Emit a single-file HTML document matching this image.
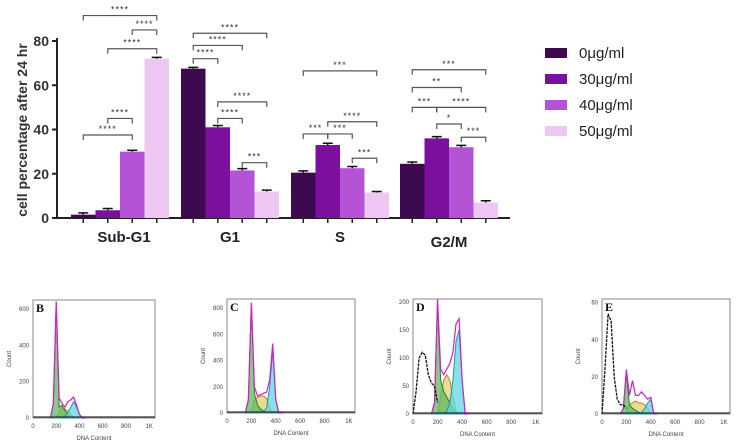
<!DOCTYPE html>
<html><head><meta charset="utf-8">
<style>
body{margin:0;background:#fff;width:736px;height:444px;overflow:hidden;font-family:"Liberation Sans",sans-serif}
svg{display:block}
</style></head>
<body>
<svg id="chart" width="736" height="444" viewBox="0 0 736 444" xmlns="http://www.w3.org/2000/svg"></svg>
<script>
// ---- Bar chart data ----
const categories = ["Sub-G1","G1","S","G2/M"];
const seriesNames = ["0\u03bcg/ml","30\u03bcg/ml","40\u03bcg/ml","50\u03bcg/ml"];
const s0 = [1.5, 67.5, 20.5, 24.5];
const s30 = [3.5, 41, 33, 36];
const s40 = [30, 21.5, 22.5, 32];
const s50 = [72, 12, 11.5, 7];
const errs = [[0.8,0.6,0.8,0.8],[0.8,0.8,0.8,0.8],[0.6,0.8,0.8,0.8],[0.6,0.6,0.5,0.8]];
const yTicks = [0,20,40,60,80];
// significance: [group, barA, barB, level(y value), label]
const sig = [
 [0,0,3,91.5,"****"],[0,2,3,85,"****"],[0,1,3,76.5,"****"],[0,1,2,45,"****"],[0,0,2,37.5,"****"],
 [1,0,3,83.5,"****"],[1,0,2,78,"****"],[1,0,1,72,"****"],[1,1,3,52.5,"****"],[1,1,2,45,"****"],[1,2,3,25,"***"],
 [2,0,3,66.5,"***"],[2,0,1,38,"***"],[2,1,3,43.5,"****"],[2,1,2,38,"***"],[2,2,3,27,"***"],
 [3,0,3,67,"***"],[3,0,2,59,"**"],[3,0,1,50,"***"],[3,1,3,50,"****"],[3,1,2,42.5,"*"],[3,2,3,36.5,"***"]
];
// ---- Histogram data (bins of DNA content) ----
const histBins = [150,175,200,225,250,275,300,325,350,375,400,425,450];
const debrisBins = [0,25,50,75,100,125,150,175,200];
const panelLabels = ["B","C","D","E"];
const panelYMax = [650,870,205,62];
const panelYTicks = [[0,200,400,600],[0,200,400,600,800],[0,50,100,150,200],[0,20,40,60]];
const xTickVals = [0,200,400,600,800,1000];
const xTickLabels = ["0","200","400","600","800","1K"];
const greenB=[0,80,640,60,70,40,20,5,0,0,0,0,0], yellowB=[0,0,0,30,60,50,40,20,5,0,0,0,0], cyanB=[0,0,0,0,0,10,30,60,90,60,20,0,0], totalB=[0,80,640,110,80,60,90,100,115,70,20,0,0];
const greenC=[0,100,840,150,60,30,15,5,0,0,0,0,0], yellowC=[0,0,0,100,120,130,130,110,40,0,0,0,0], cyanC=[0,0,0,0,0,0,10,40,200,480,100,0,0], totalC=[0,100,840,200,130,140,150,160,250,530,100,0,0];
const greenD=[0,20,200,60,40,30,20,10,0,0,0,0,0], yellowD=[0,0,0,30,60,70,60,30,5,0,0,0,0], cyanD=[0,0,0,0,0,5,20,60,130,150,60,0,0], totalD=[0,20,205,80,70,80,90,110,160,170,60,0,0];
const greenE=[0,3,22,5,3,2,1,0,0,0,0,0,0], yellowE=[0,0,0,5,6,7,6,6,5,3,0,0,0], cyanE=[0,0,0,0,0,0,0,1,3,6,8,0,0], totalE=[0,3,24,10,18,10,10,12,10,8,9,0,0];
const debrisD=[0,40,100,110,105,70,55,50,20], debrisE=[0,25,54,50,20,8,5,5,3];

const svg=document.getElementById('chart');
const NS="http://www.w3.org/2000/svg";
function mk(tag,attrs,parent){const e=document.createElementNS(NS,tag);for(const k in attrs)e.setAttribute(k,attrs[k]);(parent||svg).appendChild(e);return e;}

// Bar chart geometry
const y0=218, pxPerUnit=177/80, axL=57, axR=510;
const groupStart=[71,181,291,400], barW=24.5;
const colors=["#3d0a50","#7a109d","#b553d6","#eec8f3"];
const Y=v=>y0-v*pxPerUnit;
const X=(g,b)=>groupStart[g]+b*barW;
const series=[s0,s30,s40,s50];

// axes
let a=mk('line',{x1:axL,y1:38,x2:axL,y2:y0,stroke:'#222','stroke-width':2});

a=mk('line',{x1:axL-5,y1:y0,x2:axR,y2:y0,stroke:'#222','stroke-width':2});

yTicks.forEach(t=>{
 const l=mk('line',{x1:axL-5,y1:Y(t),x2:axL,y2:Y(t),stroke:'#222','stroke-width':2});
 
 const tx=mk('text',{x:axL-8,y:Y(t)+5,'text-anchor':'end','font-size':14,'font-weight':'bold',fill:'#333'});
 tx.textContent=t;
});
const yt=mk('text',{x:0,y:0,transform:'translate(27,130) rotate(-90)','text-anchor':'middle','font-size':14,'font-weight':'bold',fill:'#333'});
yt.textContent="cell percentage after 24 hr";


series.forEach((s,b)=>{
 s.forEach((v,g)=>{
  const r=mk('rect',{x:X(g,b),y:Y(v),width:barW,height:v*pxPerUnit,fill:colors[b]});
  
  
  const cx=X(g,b)+barW/2, e=errs[b][g];
  const el=mk('path',{d:`M${cx} ${Y(v)} V${Y(v+e)} M${cx-5} ${Y(v+e)} H${cx+5}`,stroke:'#111','stroke-width':1.5,fill:'none'});
  
  const tk=mk('line',{x1:cx,y1:y0,x2:cx,y2:y0+5,stroke:'#222','stroke-width':1.5});
  
 });
});
const catLabelY=[242,242,242,247];
categories.forEach((c,g)=>{
 const t=mk('text',{x:groupStart[g]+barW*2+(g==0?4:0),y:catLabelY[g],'text-anchor':'middle','font-size':15,'font-weight':'bold',fill:'#222'});
 t.textContent=c;
});
sig.forEach(s=>{
 const [g,a1,b1,lv,lab]=s;
 const x1=X(g,a1)+barW/2, x2=X(g,b1)+barW/2, yy=Y(lv);
 const p=mk('path',{d:`M${x1} ${yy+5} V${yy} H${x2} V${yy+5}`,stroke:'#555','stroke-width':1.2,fill:'none'});
 
 const t=mk('text',{x:(x1+x2)/2,y:yy-3,'text-anchor':'middle','font-size':9,fill:'#333','letter-spacing':'1'});
 t.textContent=lab;
});
// legend
seriesNames.forEach((n,i)=>{
 const yy=48+i*26;
 const r=mk('rect',{x:545,y:yy,width:22,height:10,fill:colors[i]});
 
 const t=mk('text',{x:579,y:yy+10,'font-size':15,fill:'#222'});
 t.textContent=n;
});

// ---- Histograms ----
const boxes=[[33,300,122,118],[227,299,128,114],[413,299,129,115],[602,299,128,115]];
const greens=[greenB,greenC,greenD,greenE], yellows=[yellowB,yellowC,yellowD,yellowE], cyans=[cyanB,cyanC,cyanD,cyanE], totals=[totalB,totalC,totalD,totalE];
const debris=[null,null,debrisD,debrisE];
boxes.forEach((bx,i)=>{
 const [x0,ty,w,h]=bx, by=ty+h, ymax=panelYMax[i];
 const HX=v=>x0+v/1050*w, HY=v=>by-v/ymax*h;
 const g=mk('g',{});
 const fr=mk('rect',{x:x0,y:ty,width:w,height:h,fill:'#fff',stroke:'#888','stroke-width':1},g);
 
 const area=(arr,fill,stroke,name)=>{
  let d=`M${HX(histBins[0])} ${by}`;arr.forEach((v,k)=>d+=` L${HX(histBins[k])} ${HY(v)}`);d+=` L${HX(histBins[histBins.length-1])} ${by}Z`;
  const p=mk('path',{d,fill,stroke,'stroke-width':1,'fill-opacity':0.75},g);
  
 };
 area(yellows[i],'#e0d070','#c08030','s-phase-area');
 area(greens[i],'#5dbb5d','#2e7d2e','g1-area');
 area(cyans[i],'#5fd8e0','#2a90b0','g2-area');
 let d='';totals[i].forEach((v,k)=>d+=(k?' L':'M')+HX(histBins[k])+' '+HY(v));
 const tl=mk('path',{d,fill:'none',stroke:'#d020c8','stroke-width':1.2},g);
 
 if(debris[i]){let dd='';debris[i].forEach((v,k)=>dd+=(k?' L':'M')+HX(debrisBins[k])+' '+HY(v));
  const dl=mk('path',{d:dd,fill:'none',stroke:'#111','stroke-width':1.3,'stroke-dasharray':'3 1'},g);
  }
 const bl=mk('line',{x1:x0,y1:by-1,x2:x0+w,y2:by-1,stroke:'#333','stroke-width':1.2},g);
 
 xTickVals.forEach((v,k)=>{
  const t=mk('text',{x:HX(v),y:by+10,'text-anchor':'middle','font-size':6,fill:'#444'},g);
  t.textContent=xTickLabels[k];
 });
 panelYTicks[i].forEach(v=>{
  const t=mk('text',{x:x0-4,y:HY(v)+2,'text-anchor':'end','font-size':6,fill:'#444'},g);
  t.textContent=v;
 });
 const xl=mk('text',{x:x0+w/2,y:by+22,'text-anchor':'middle','font-size':6,fill:'#444'},g);
 xl.textContent="DNA Content";
 const ylab=mk('text',{x:0,y:0,transform:`translate(${x0-22},${ty+h/2}) rotate(-90)`,'text-anchor':'middle','font-size':6,fill:'#444'},g);
 ylab.textContent="Count";
 const pl=mk('text',{x:x0+3,y:ty+12,'font-size':12,'font-weight':'bold','font-family':'Liberation Serif, serif',fill:'#111'},g);
 pl.textContent=panelLabels[i];
});
</script>
</body></html>
